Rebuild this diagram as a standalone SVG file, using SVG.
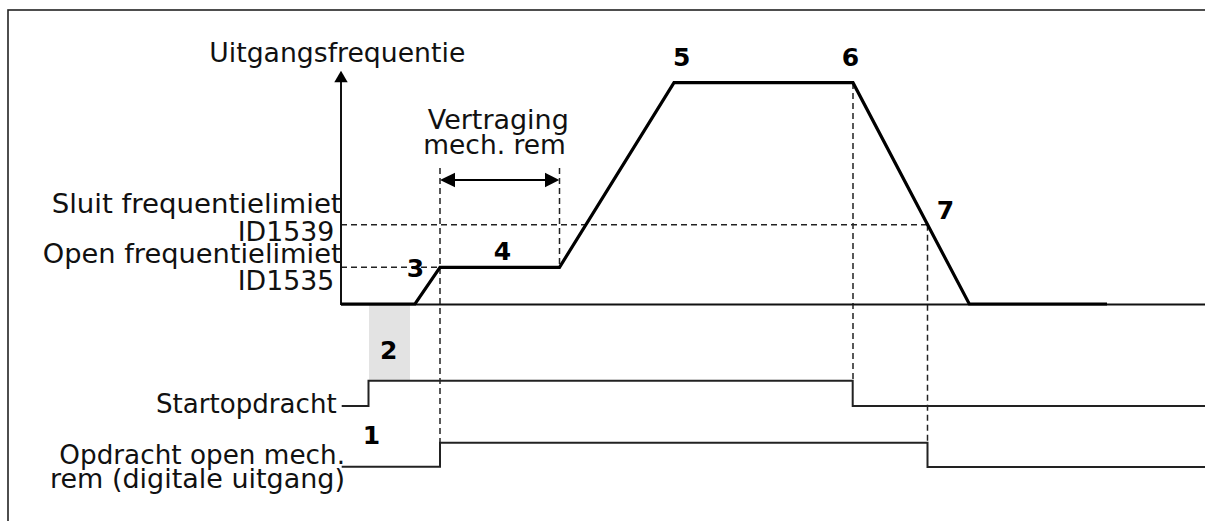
<svg xmlns="http://www.w3.org/2000/svg" width="1205" height="521" viewBox="0 0 1205 521">
<style>
.t{font-family:"DejaVu Sans",Verdana,sans-serif;font-size:26px;fill:#111}
.n{font-family:"DejaVu Sans",Verdana,sans-serif;font-size:25px;font-weight:bold;fill:#000}
.sig{fill:none;stroke:#222;stroke-width:2}
.curve{fill:none;stroke:#000;stroke-width:3.2;stroke-linejoin:miter}
.dash{fill:none;stroke:#222;stroke-width:1.5;stroke-dasharray:6 4}
</style>
<rect id="frame" x="8" y="10" width="1260" height="600" fill="#fff" stroke="#222" stroke-width="1.6"/>
<g id="shade">
<rect x="369" y="305" width="41" height="75.5" fill="#e3e3e3"/>
</g>
<g id="connectors">
<line class="dash" x1="341" y1="224.7" x2="927.5" y2="224.7"/>
<line class="dash" x1="341" y1="267.3" x2="440" y2="267.3"/>
<line class="dash" x1="440" y1="168" x2="440" y2="442.7"/>
<line class="dash" x1="559.5" y1="168" x2="559.5" y2="267.3"/>
<line class="dash" x1="853" y1="83" x2="853" y2="380.7"/>
<line class="dash" x1="927.5" y1="224.7" x2="927.5" y2="442.7"/>
<line x1="341" y1="304.5" x2="1205" y2="304.5" stroke="#111" stroke-width="2"/>
<line x1="341" y1="305" x2="341" y2="80" stroke="#111" stroke-width="2"/>
<polygon points="341,70.7 334.3,82.3 347.7,82.3" fill="#000"/>
<line x1="452" y1="180" x2="547" y2="180" stroke="#000" stroke-width="2"/>
<polygon points="440,180 455,172.7 455,187.3" fill="#000"/>
<polygon points="559.3,180 545,172.7 545,187.3" fill="#000"/>
<path class="curve" d="M341,304 L415,304 L440,267.3 L559.5,267.3 L674,82.7 L853,82.7 L969.3,304 L1107,304"/>
<path class="sig" d="M341.7,406 H368.5 V380.7 H852.7 V406 H1205"/>
<path class="sig" d="M341.7,466.7 H440 V442.7 H927.5 V467 H1205"/>
</g>
<g id="labels">
<text class="t" x="209.3" y="61.7" textLength="256" lengthAdjust="spacingAndGlyphs">Uitgangsfrequentie</text>
<text class="t" x="427.8" y="129.3" textLength="141" lengthAdjust="spacingAndGlyphs">Vertraging</text>
<text class="t" x="423.3" y="154" textLength="142.5" lengthAdjust="spacingAndGlyphs">mech. rem</text>
<text class="t" x="51.7" y="213.3" textLength="290" lengthAdjust="spacingAndGlyphs">Sluit frequentielimiet</text>
<text class="t" x="237.7" y="241" textLength="96.6" lengthAdjust="spacingAndGlyphs">ID1539</text>
<text class="t" x="42.7" y="263.3" textLength="299" lengthAdjust="spacingAndGlyphs">Open frequentielimiet</text>
<text class="t" x="237.7" y="290" textLength="96.6" lengthAdjust="spacingAndGlyphs">ID1535</text>
<text class="t" x="156" y="413.3" textLength="180.7" lengthAdjust="spacingAndGlyphs">Startopdracht</text>
<text class="t" x="59.3" y="463.5" textLength="285.7" lengthAdjust="spacingAndGlyphs">Opdracht open mech.</text>
<text class="t" x="50" y="488.3" textLength="295" lengthAdjust="spacingAndGlyphs">rem (digitale uitgang)</text>
</g>
<g id="markers">
<text class="n" x="406.7" y="277">3</text>
<text class="n" x="493.7" y="260">4</text>
<text class="n" x="673" y="65.5">5</text>
<text class="n" x="841.7" y="65.5">6</text>
<text class="n" x="936.7" y="218.5">7</text>
<text class="n" x="380" y="358.5">2</text>
<text class="n" x="362.7" y="443.5">1</text>
</g>
</svg>
